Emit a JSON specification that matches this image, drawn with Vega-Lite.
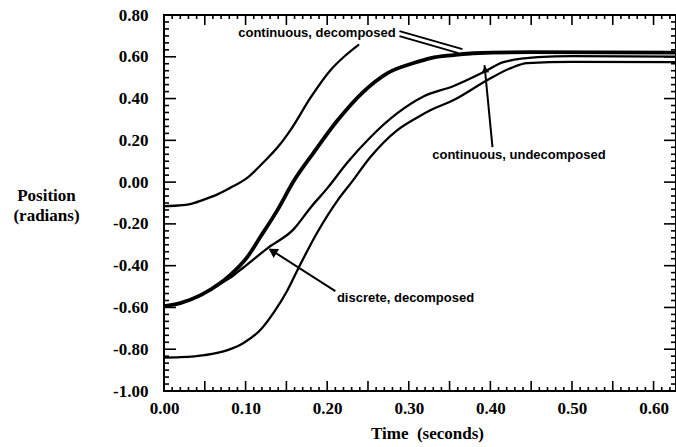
{
  "$schema": "https://vega.github.io/schema/vega-lite/v6.json",
  "width": 512,
  "height": 376,
  "autosize": {"type": "none"},
  "padding": {"left": 164, "top": 15, "right": 0, "bottom": 56},
  "background": "white",
  "config": {
    "view": {"stroke": "black", "strokeWidth": 2},
    "axis": {
      "grid": false,
      "ticks": false,
      "domain": false,
      "labelFont": "Liberation Serif",
      "labelFontWeight": "bold",
      "labelFontSize": 17,
      "labelColor": "black",
      "titleFont": "Liberation Serif",
      "titleFontWeight": "bold",
      "titleFontSize": 17,
      "titleColor": "black",
      "labelOverlap": false,
      "labelFlush": false,
      "labelBound": false
    }
  },
  "datasets": {
    "curves": [
      {"series": "A", "t": 0.0, "v": -0.115},
      {"series": "A", "t": 0.017, "v": -0.112},
      {"series": "A", "t": 0.032, "v": -0.105},
      {"series": "A", "t": 0.048, "v": -0.085},
      {"series": "A", "t": 0.065, "v": -0.06},
      {"series": "A", "t": 0.08, "v": -0.03},
      {"series": "A", "t": 0.102, "v": 0.02},
      {"series": "A", "t": 0.122, "v": 0.095},
      {"series": "A", "t": 0.14, "v": 0.17},
      {"series": "A", "t": 0.155, "v": 0.249},
      {"series": "A", "t": 0.18, "v": 0.407},
      {"series": "A", "t": 0.204, "v": 0.536},
      {"series": "A", "t": 0.222, "v": 0.605},
      {"series": "A", "t": 0.238, "v": 0.656},

      {"series": "B", "t": 0.0, "v": -0.594},
      {"series": "B", "t": 0.02, "v": -0.579},
      {"series": "B", "t": 0.045, "v": -0.541},
      {"series": "B", "t": 0.069, "v": -0.483},
      {"series": "B", "t": 0.081, "v": -0.445},
      {"series": "B", "t": 0.102, "v": -0.359},
      {"series": "B", "t": 0.118, "v": -0.263},
      {"series": "B", "t": 0.139, "v": -0.134},
      {"series": "B", "t": 0.159, "v": 0.005},
      {"series": "B", "t": 0.183, "v": 0.139},
      {"series": "B", "t": 0.213, "v": 0.297},
      {"series": "B", "t": 0.244, "v": 0.431},
      {"series": "B", "t": 0.274, "v": 0.522},
      {"series": "B", "t": 0.306, "v": 0.57},
      {"series": "B", "t": 0.327, "v": 0.594},
      {"series": "B", "t": 0.355, "v": 0.608},
      {"series": "B", "t": 0.379, "v": 0.617},
      {"series": "B", "t": 0.45, "v": 0.622},
      {"series": "B", "t": 0.64, "v": 0.62},

      {"series": "C", "t": 0.0, "v": -0.594},
      {"series": "C", "t": 0.02, "v": -0.579},
      {"series": "C", "t": 0.045, "v": -0.541},
      {"series": "C", "t": 0.069, "v": -0.487},
      {"series": "C", "t": 0.085, "v": -0.447},
      {"series": "C", "t": 0.097, "v": -0.41},
      {"series": "C", "t": 0.127, "v": -0.316},
      {"series": "C", "t": 0.159, "v": -0.225},
      {"series": "C", "t": 0.18, "v": -0.12},
      {"series": "C", "t": 0.2, "v": -0.03},
      {"series": "C", "t": 0.225, "v": 0.095},
      {"series": "C", "t": 0.253, "v": 0.215},
      {"series": "C", "t": 0.286, "v": 0.33},
      {"series": "C", "t": 0.318, "v": 0.41},
      {"series": "C", "t": 0.355, "v": 0.46},
      {"series": "C", "t": 0.392, "v": 0.527},
      {"series": "C", "t": 0.416, "v": 0.574},
      {"series": "C", "t": 0.458, "v": 0.598},
      {"series": "C", "t": 0.5, "v": 0.603},
      {"series": "C", "t": 0.64, "v": 0.6},

      {"series": "D", "t": 0.0, "v": -0.84},
      {"series": "D", "t": 0.02, "v": -0.838},
      {"series": "D", "t": 0.05, "v": -0.828},
      {"series": "D", "t": 0.078, "v": -0.804},
      {"series": "D", "t": 0.097, "v": -0.771},
      {"series": "D", "t": 0.118, "v": -0.708},
      {"series": "D", "t": 0.134, "v": -0.627},
      {"series": "D", "t": 0.151, "v": -0.52},
      {"series": "D", "t": 0.165, "v": -0.41},
      {"series": "D", "t": 0.188, "v": -0.24},
      {"series": "D", "t": 0.213, "v": -0.086},
      {"series": "D", "t": 0.23, "v": 0.0},
      {"series": "D", "t": 0.253, "v": 0.12},
      {"series": "D", "t": 0.286, "v": 0.249},
      {"series": "D", "t": 0.311, "v": 0.311},
      {"series": "D", "t": 0.327, "v": 0.345},
      {"series": "D", "t": 0.355, "v": 0.393},
      {"series": "D", "t": 0.396, "v": 0.488},
      {"series": "D", "t": 0.425, "v": 0.546},
      {"series": "D", "t": 0.445, "v": 0.57},
      {"series": "D", "t": 0.5, "v": 0.576},
      {"series": "D", "t": 0.64, "v": 0.574}
    ],
    "notes": [
      {"label": "continuous, decomposed", "t": 0.1875, "v": 0.713},
      {"label": "continuous, undecomposed", "t": 0.435, "v": 0.129},
      {"label": "discrete, decomposed", "t": 0.296, "v": -0.555}
    ],
    "arrows": [
      {"name": "cd1", "t": 0.2886, "v": 0.7228, "t2": 0.3658, "v2": 0.6367},
      {"name": "cd2", "t": 0.2886, "v": 0.6989, "t2": 0.3609, "v2": 0.6175},
      {"name": "cu", "t": 0.4026, "v": 0.1675, "t2": 0.3928, "v2": 0.56},
      {"name": "dd", "t": 0.21, "v": -0.522, "t2": 0.13, "v2": -0.322}
    ],
    "heads": [
      {"name": "cu", "t": 0.3935, "v": 0.54},
      {"name": "dd", "t": 0.133, "v": -0.33}
    ],
    "xmaj": [{"t": 0}, {"t": 0.05}, {"t": 0.1}, {"t": 0.15}, {"t": 0.2}, {"t": 0.25}, {"t": 0.3}, {"t": 0.35}, {"t": 0.4}, {"t": 0.45}, {"t": 0.5}, {"t": 0.55}, {"t": 0.6}],
    "xmin": [{"t": 0.01}, {"t": 0.02}, {"t": 0.03}, {"t": 0.04}, {"t": 0.06}, {"t": 0.07}, {"t": 0.08}, {"t": 0.09}, {"t": 0.11}, {"t": 0.12}, {"t": 0.13}, {"t": 0.14}, {"t": 0.16}, {"t": 0.17}, {"t": 0.18}, {"t": 0.19}, {"t": 0.21}, {"t": 0.22}, {"t": 0.23}, {"t": 0.24}, {"t": 0.26}, {"t": 0.27}, {"t": 0.28}, {"t": 0.29}, {"t": 0.31}, {"t": 0.32}, {"t": 0.33}, {"t": 0.34}, {"t": 0.36}, {"t": 0.37}, {"t": 0.38}, {"t": 0.39}, {"t": 0.41}, {"t": 0.42}, {"t": 0.43}, {"t": 0.44}, {"t": 0.46}, {"t": 0.47}, {"t": 0.48}, {"t": 0.49}, {"t": 0.51}, {"t": 0.52}, {"t": 0.53}, {"t": 0.54}, {"t": 0.56}, {"t": 0.57}, {"t": 0.58}, {"t": 0.59}, {"t": 0.61}, {"t": 0.62}],
    "ymaj": [{"v": -1}, {"v": -0.8}, {"v": -0.6}, {"v": -0.4}, {"v": -0.2}, {"v": 0}, {"v": 0.2}, {"v": 0.4}, {"v": 0.6}, {"v": 0.8}],
    "ymin": [{"v": -0.9667}, {"v": -0.9333}, {"v": -0.9}, {"v": -0.8667}, {"v": -0.8333}, {"v": -0.7667}, {"v": -0.7333}, {"v": -0.7}, {"v": -0.6667}, {"v": -0.6333}, {"v": -0.5667}, {"v": -0.5333}, {"v": -0.5}, {"v": -0.4667}, {"v": -0.4333}, {"v": -0.3667}, {"v": -0.3333}, {"v": -0.3}, {"v": -0.2667}, {"v": -0.2333}, {"v": -0.1667}, {"v": -0.1333}, {"v": -0.1}, {"v": -0.0667}, {"v": -0.0333}, {"v": 0.0333}, {"v": 0.0667}, {"v": 0.1}, {"v": 0.1333}, {"v": 0.1667}, {"v": 0.2333}, {"v": 0.2667}, {"v": 0.3}, {"v": 0.3333}, {"v": 0.3667}, {"v": 0.4333}, {"v": 0.4667}, {"v": 0.5}, {"v": 0.5333}, {"v": 0.5667}, {"v": 0.6333}, {"v": 0.6667}, {"v": 0.7}, {"v": 0.7333}, {"v": 0.7667}]
  },
  "layer": [
    {
      "data": {"name": "curves"},
      "transform": [{"filter": "datum.series == 'B'"}],
      "mark": {"type": "line", "color": "black", "clip": true, "strokeCap": "round", "strokeJoin": "round", "interpolate": "monotone", "strokeWidth": 3.8},
      "encoding": {
        "x": {
          "field": "t", "type": "quantitative",
          "scale": {"domain": [0, 0.6275], "nice": false, "zero": false},
          "axis": {
            "orient": "bottom",
            "title": "Time\u00a0 (seconds)",
            "titleX": 263, "titleY": 42, "titleBaseline": "middle", "titleAlign": "center",
            "values": [0, 0.1, 0.2, 0.3, 0.4, 0.5, 0.6],
            "labelPadding": 9,
            "format": ".2f"
          }
        },
        "y": {
          "field": "v", "type": "quantitative",
          "scale": {"domain": [-1, 0.8], "nice": false, "zero": false},
          "axis": {
            "orient": "left",
            "title": ["Position", "(radians)"],
            "titleAngle": 0, "titleAlign": "center", "titleBaseline": "middle",
            "titleX": -118, "titleY": 180, "titleLineHeight": 20,
            "values": [-1, -0.8, -0.6, -0.4, -0.2, 0, 0.2, 0.4, 0.6, 0.8],
            "labelPadding": 16,
            "labelExpr": "(datum.value < -0.001 ? '-' : '') + format(abs(datum.value), '.2f')"
          }
        }
      }
    },
    {
      "data": {"name": "curves"},
      "transform": [{"filter": "datum.series != 'B'"}],
      "mark": {"type": "line", "color": "black", "clip": true, "strokeCap": "round", "strokeJoin": "round", "interpolate": "monotone", "strokeWidth": 2.3},
      "encoding": {
        "x": {"field": "t", "type": "quantitative", "axis": null},
        "y": {"field": "v", "type": "quantitative", "axis": null},
        "detail": {"field": "series", "type": "nominal"}
      }
    },
    {
      "data": {"name": "notes"},
      "mark": {"type": "text", "font": "Liberation Sans", "fontWeight": "bold", "fontSize": 13, "color": "black", "align": "center", "baseline": "middle", "letterSpacing": -0.4},
      "encoding": {
        "x": {"field": "t", "type": "quantitative", "axis": null},
        "y": {"field": "v", "type": "quantitative", "axis": null},
        "text": {"field": "label", "type": "nominal"}
      }
    },
    {
      "data": {"name": "arrows"},
      "mark": {"type": "rule", "color": "black", "strokeWidth": 2},
      "encoding": {
        "x": {"field": "t", "type": "quantitative", "axis": null},
        "y": {"field": "v", "type": "quantitative", "axis": null},
        "x2": {"field": "t2"},
        "y2": {"field": "v2"}
      }
    },
    {
      "data": {"name": "heads"},
      "transform": [{"filter": "datum.name == 'dd'"}],
      "mark": {"type": "point", "shape": "triangle-up", "filled": true, "color": "black", "size": 110, "angle": 302, "opacity": 1},
      "encoding": {
        "x": {"field": "t", "type": "quantitative", "axis": null},
        "y": {"field": "v", "type": "quantitative", "axis": null}
      }
    },
    {
      "data": {"name": "heads"},
      "transform": [{"filter": "datum.name == 'cu'"}],
      "mark": {"type": "point", "shape": "triangle-up", "filled": true, "color": "black", "size": 60, "angle": 354, "opacity": 1},
      "encoding": {
        "x": {"field": "t", "type": "quantitative", "axis": null},
        "y": {"field": "v", "type": "quantitative", "axis": null}
      }
    },
    {
      "data": {"name": "xmaj"},
      "mark": {"type": "tick", "orient": "vertical", "size": 20, "thickness": 1.6, "color": "black", "opacity": 1, "clip": true},
      "encoding": {
        "x": {"field": "t", "type": "quantitative", "axis": null},
        "y": {"datum": -1, "type": "quantitative", "axis": null}
      }
    },
    {
      "data": {"name": "xmaj"},
      "mark": {"type": "tick", "orient": "vertical", "size": 20, "thickness": 1.6, "color": "black", "opacity": 1, "clip": true},
      "encoding": {
        "x": {"field": "t", "type": "quantitative", "axis": null},
        "y": {"datum": 0.8, "type": "quantitative", "axis": null}
      }
    },
    {
      "data": {"name": "xmin"},
      "mark": {"type": "tick", "orient": "vertical", "size": 8, "thickness": 1.6, "color": "black", "opacity": 1, "clip": true},
      "encoding": {
        "x": {"field": "t", "type": "quantitative", "axis": null},
        "y": {"datum": -1, "type": "quantitative", "axis": null}
      }
    },
    {
      "data": {"name": "xmin"},
      "mark": {"type": "tick", "orient": "vertical", "size": 8, "thickness": 1.6, "color": "black", "opacity": 1, "clip": true},
      "encoding": {
        "x": {"field": "t", "type": "quantitative", "axis": null},
        "y": {"datum": 0.8, "type": "quantitative", "axis": null}
      }
    },
    {
      "data": {"name": "ymaj"},
      "mark": {"type": "tick", "orient": "horizontal", "size": 24, "thickness": 1.6, "color": "black", "opacity": 1, "clip": true},
      "encoding": {
        "y": {"field": "v", "type": "quantitative", "axis": null},
        "x": {"datum": 0, "type": "quantitative", "axis": null}
      }
    },
    {
      "data": {"name": "ymaj"},
      "mark": {"type": "tick", "orient": "horizontal", "size": 24, "thickness": 1.6, "color": "black", "opacity": 1, "clip": true},
      "encoding": {
        "y": {"field": "v", "type": "quantitative", "axis": null},
        "x": {"datum": 0.6275, "type": "quantitative", "axis": null}
      }
    },
    {
      "data": {"name": "ymin"},
      "mark": {"type": "tick", "orient": "horizontal", "size": 10, "thickness": 1.6, "color": "black", "opacity": 1, "clip": true},
      "encoding": {
        "y": {"field": "v", "type": "quantitative", "axis": null},
        "x": {"datum": 0, "type": "quantitative", "axis": null}
      }
    },
    {
      "data": {"name": "ymin"},
      "mark": {"type": "tick", "orient": "horizontal", "size": 10, "thickness": 1.6, "color": "black", "opacity": 1, "clip": true},
      "encoding": {
        "y": {"field": "v", "type": "quantitative", "axis": null},
        "x": {"datum": 0.6275, "type": "quantitative", "axis": null}
      }
    }
  ],
  "resolve": {"axis": {"x": "independent", "y": "independent"}}
}
